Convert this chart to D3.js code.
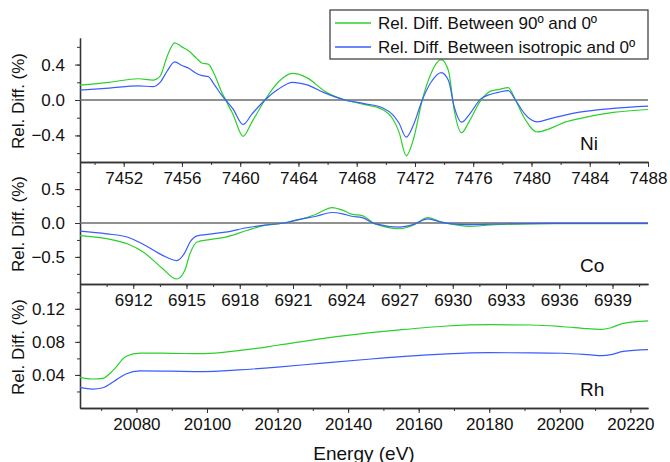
<!DOCTYPE html>
<html>
<head>
<meta charset="utf-8">
<script src="https://cdn.jsdelivr.net/npm/d3@7"></script>
<style>
  body { margin: 0; background: #fff; }
  svg { font-family: "Liberation Sans", Arial, sans-serif; }
  .axis path, .axis line { stroke: #333; }
  .axis text { fill: #111; font-size: 17px; }
</style>
</head>
<body>
<div id="chart"></div>
<script>
// Ni K-edge
const niEnergy = [7449, 7451, 7453, 7454, 7454.5, 7455, 7455.5, 7456, 7456.5, 7457, 7457.4, 7457.8, 7458.2, 7458.7,
  7459, 7459.5, 7460.2, 7460.8, 7461.7, 7462.6, 7463.6, 7464.6, 7465.8, 7467.2, 7468.5, 7469.8, 7470.5, 7470.9,
  7471.4, 7471.9, 7472.5, 7473.1, 7473.8, 7474.3, 7474.7, 7475.2, 7475.7, 7476.5, 7477.2, 7477.8, 7478.4, 7478.9,
  7479.5, 7480.4, 7481.3, 7482.3, 7483.3, 7485.6, 7488];
const ni90 = [0.168, 0.2, 0.24, 0.225, 0.27, 0.5, 0.645, 0.6, 0.55, 0.47, 0.415, 0.405, 0.3, 0.1,
  0, -0.16, -0.41, -0.25, 0, 0.2, 0.3, 0.25, 0.1, 0, -0.05, -0.11, -0.22, -0.36,
  -0.63, -0.44, 0, 0.3, 0.456, 0.33, -0.12, -0.37, -0.25, -0.01, 0.1, 0.12, 0.14, 0,
  -0.2, -0.36, -0.32, -0.25, -0.21, -0.14, -0.107];
const niIso = [0.112, 0.135, 0.16, 0.15, 0.2, 0.33, 0.43, 0.39, 0.355, 0.3, 0.275, 0.265, 0.18, 0.06,
  0, -0.1, -0.276, -0.16, 0, 0.12, 0.2, 0.17, 0.08, 0, -0.04, -0.09, -0.17, -0.26,
  -0.42, -0.28, 0, 0.2, 0.31, 0.22, -0.08, -0.25, -0.17, 0.01, 0.065, 0.09, 0.105, 0,
  -0.15, -0.246, -0.21, -0.17, -0.137, -0.095, -0.07];

// Co K-edge
const coEnergy = [6909, 6910.5, 6911.7, 6912.6, 6913.6, 6914.45, 6914.9, 6915.2, 6915.6, 6916.3, 6917.2, 6918.4,
  6919.4, 6920.5, 6921.3, 6922.3, 6923.2, 6923.8, 6924.3, 6924.9, 6925.6, 6927, 6927.8, 6928.6, 6929.3, 6929.8,
  6930.9, 6932.4, 6935.8, 6941];
const co90 = [-0.185, -0.23, -0.31, -0.435, -0.66, -0.826, -0.7, -0.45, -0.28, -0.245, -0.208, -0.11,
  -0.035, 0, 0.045, 0.13, 0.228, 0.19, 0.13, 0.11, -0.01, -0.085, -0.03, 0.08, 0.02, -0.01,
  -0.05, -0.025, -0.01, -0.01];
const coIso = [-0.12, -0.16, -0.21, -0.32, -0.47, -0.554, -0.44, -0.28, -0.19, -0.165, -0.134, -0.07,
  -0.03, 0, 0.05, 0.1, 0.155, 0.135, 0.1, 0.08, -0.01, -0.06, -0.02, 0.06, 0.015, -0.01,
  -0.025, -0.015, -0.005, -0.005];

// Rh K-edge
const rhEnergy = [20064, 20067.5, 20070.5, 20073.5, 20077, 20081, 20090, 20099, 20109, 20120, 20132, 20144,
  20156, 20168, 20180, 20192, 20201, 20208, 20212, 20214.5, 20218, 20225];
const rh90 = [0.0371, 0.0351, 0.0359, 0.0461, 0.0624, 0.0665, 0.0661, 0.0657, 0.0694, 0.0759, 0.0837, 0.09,
  0.095, 0.0992, 0.1008, 0.1004, 0.0983, 0.0959, 0.0951, 0.0971, 0.1024, 0.1053];
const rhIso = [0.0249, 0.0229, 0.0245, 0.0318, 0.0412, 0.0449, 0.0445, 0.0441, 0.0461, 0.0495, 0.054, 0.0584,
  0.0625, 0.0655, 0.0669, 0.0668, 0.0662, 0.0645, 0.0633, 0.0645, 0.0685, 0.0706];

// ticks
const niXTicks = [7452, 7456, 7460, 7464, 7468, 7472, 7476, 7480, 7484, 7488];
const coXTicks = [6912, 6915, 6918, 6921, 6924, 6927, 6930, 6933, 6936, 6939];
const rhXTicks = [20080, 20100, 20120, 20140, 20160, 20180, 20200, 20220];
const niYTicks = [-0.4, 0, 0.4];
const coYTicks = [-0.5, 0, 0.5];
const rhYTicks = [0.04, 0.08, 0.12];

const seriesNames = ['Rel. Diff. Between 90º and 0º', 'Rel. Diff. Between isotropic and 0º'];
const seriesColors = ['#2bd12b', '#3a5cff'];

const width = 670, height = 462;
const left = 80, right = 648;

const panels = [
  {name: 'Ni', energy: niEnergy, s1: ni90, s2: niIso, xDomain: [7449, 7488], yDomain: [-0.7, 0.7],
    top: 38, bottom: 162, xTicks: niXTicks, xStep: 2, yTicks: niYTicks, yStep: 0.2, fmt: d3.format('.1f'), zero: true},
  {name: 'Co', energy: coEnergy, s1: co90, s2: coIso, xDomain: [6909, 6941], yDomain: [-0.9, 0.9],
    top: 162, bottom: 284, xTicks: coXTicks, xStep: 1.5, yTicks: coYTicks, yStep: 0.25, fmt: d3.format('.1f'), zero: true},
  {name: 'Rh', energy: rhEnergy, s1: rh90, s2: rhIso, xDomain: [20064, 20225], yDomain: [0, 0.15],
    top: 284, bottom: 408, xTicks: rhXTicks, xStep: 10, yTicks: rhYTicks, yStep: 0.02, fmt: d3.format('.2f'), zero: false}
];

const svg = d3.select('#chart').append('svg')
  .attr('width', width)
  .attr('height', height);

panels.forEach((p, i) => {
  const x = d3.scaleLinear().domain(p.xDomain).range([left, right]);
  const y = d3.scaleLinear().domain(p.yDomain).range([p.bottom, p.top]);

  // minor ticks
  const xMinor = d3.range(p.xTicks[0] - p.xStep, p.xDomain[1] + 1e-6, p.xStep)
    .filter(v => v >= p.xDomain[0]);
  const yMinor = d3.range(Math.ceil(p.yDomain[0] / p.yStep) * p.yStep, p.yDomain[1] + 1e-9, p.yStep)
    .filter(v => v > p.yDomain[0] + 1e-9 && v < p.yDomain[1] - 1e-9);

  svg.append('g').attr('class', 'axis')
    .attr('transform', `translate(0,${p.bottom})`)
    .call(d3.axisBottom(x).tickValues(xMinor).tickSize(3).tickFormat('').tickSizeOuter(0));
  svg.append('g').attr('class', 'axis')
    .attr('transform', `translate(0,${p.bottom})`)
    .call(d3.axisBottom(x).tickValues(p.xTicks).tickSize(5).tickPadding(5).tickSizeOuter(0).tickFormat(d3.format('d')));

  svg.append('g').attr('class', 'axis')
    .attr('transform', `translate(${left},0)`)
    .call(d3.axisLeft(y).tickValues(yMinor).tickSize(3).tickFormat('').tickSizeOuter(0));
  svg.append('g').attr('class', 'axis')
    .attr('transform', `translate(${left},0)`)
    .call(d3.axisLeft(y).tickValues(p.yTicks).tickSize(5).tickPadding(10).tickSizeOuter(0).tickFormat(p.fmt));

  svg.selectAll('.axis path').attr('stroke-width', 1.3);

  if (p.zero) {
    svg.append('line')
      .attr('x1', left).attr('x2', right)
      .attr('y1', y(0)).attr('y2', y(0))
      .attr('stroke', '#6b6b6b')
      .attr('stroke-width', 1.5);
  }

  svg.append('clipPath').attr('id', 'clip' + i)
    .append('rect')
    .attr('x', left).attr('y', p.top)
    .attr('width', right - left).attr('height', p.bottom - p.top);

  const line = d3.line()
    .x(d => x(d[0]))
    .y(d => y(d[1]))
    .curve(d3.curveMonotoneX);

  [p.s1, p.s2].forEach((s, k) => {
    svg.append('path')
      .datum(p.energy.map((e, j) => [e, s[j]]))
      .attr('clip-path', `url(#clip${i})`)
      .attr('fill', 'none')
      .attr('stroke', seriesColors[k])
      .attr('stroke-width', 1.2)
      .attr('d', line);
  });

  svg.append('text')
    .attr('x', 580)
    .attr('y', p.bottom - 12)
    .attr('font-size', 19)
    .attr('fill', '#111')
    .text(p.name);

  svg.append('text')
    .attr('transform', `translate(24,${(p.top + p.bottom) / 2 + 1}) rotate(-90)`)
    .attr('text-anchor', 'middle')
    .attr('font-size', 17)
    .attr('fill', '#111')
    .text('Rel. Diff. (%)');
});

// x title
svg.append('text')
  .attr('x', (left + right) / 2)
  .attr('y', 460)
  .attr('text-anchor', 'middle')
  .attr('font-size', 19)
  .attr('fill', '#111')
  .text('Energy (eV)');

// legend
const legend = svg.append('g');
legend.append('rect')
  .attr('x', 330).attr('y', 10)
  .attr('width', 318).attr('height', 49)
  .attr('fill', '#fff')
  .attr('stroke', '#444')
  .attr('stroke-width', 1.3);
seriesNames.forEach((name, k) => {
  const ly = 23 + k * 24;
  legend.append('line')
    .attr('x1', 335).attr('x2', 371)
    .attr('y1', ly).attr('y2', ly)
    .attr('stroke', seriesColors[k])
    .attr('stroke-width', 1.3);
  legend.append('text')
    .attr('x', 378).attr('y', ly + 6)
    .attr('font-size', 17)
    .attr('fill', '#111')
    .text(name);
});
</script>
</body>
</html>
